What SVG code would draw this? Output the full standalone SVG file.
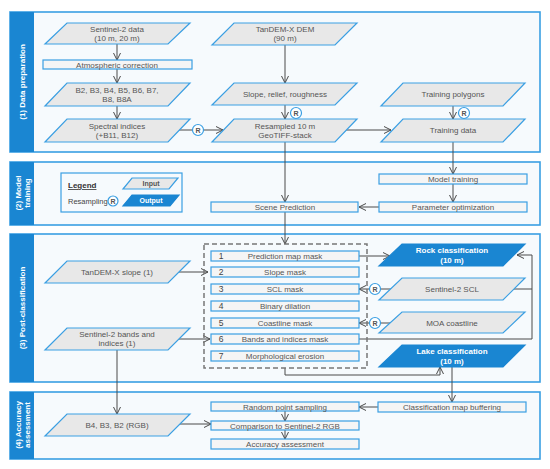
<svg xmlns="http://www.w3.org/2000/svg" width="550" height="469" viewBox="0 0 550 469">
<style>
.sec{fill:#f6fafd;stroke:#3a9fe3;stroke-width:1.6}
.bar{fill:#1a86d2}
.bl{font-family:"Liberation Sans",Arial,sans-serif;font-size:8px;font-weight:bold;fill:#ffffff;text-anchor:middle}
.in{fill:#e8e8e8;stroke:#3a9fe3;stroke-width:1.2}
.out{fill:#1a86d2;stroke:#1a86d2;stroke-width:1.2}
.box{fill:#f5f5f5;stroke:#3a9fe3;stroke-width:1.2}
.t{font-family:"Liberation Sans",Arial,sans-serif;font-size:8px;fill:#555555;text-anchor:middle}
.tw{font-family:"Liberation Sans",Arial,sans-serif;font-size:8px;font-weight:bold;fill:#ffffff;text-anchor:middle}
.n{font-family:"Liberation Sans",Arial,sans-serif;font-size:8.5px;fill:#444444;text-anchor:middle}
.c{fill:none;stroke:#4a4a4a;stroke-width:1}
.r{fill:#ffffff;stroke:#3a9fe3;stroke-width:1.2}
.rt{font-family:"Liberation Sans",Arial,sans-serif;font-size:7px;font-weight:bold;fill:#555555;text-anchor:middle}
</style>
<defs>
<marker id="a" viewBox="0 0 8 8" refX="7.5" refY="4" markerWidth="8" markerHeight="8" markerUnits="userSpaceOnUse" orient="auto">
<path d="M0.5,0.5 L7.5,4 L0.5,7.5" fill="none" stroke="#4a4a4a" stroke-width="1"/>
</marker>
</defs>
<rect width="550" height="469" fill="#ffffff"/>

<g id="section1">
<rect class="sec" x="10" y="12" width="530" height="140"/>
<rect class="bar" x="10" y="12" width="24" height="140"/>
<text class="bl" transform="translate(25,82) rotate(-90)">(1) Data preparation</text>
</g>
<g id="section2">
<rect class="sec" x="10" y="162" width="530" height="63"/>
<rect class="bar" x="10" y="162" width="24" height="63"/>
<text class="bl" transform="translate(21,193) rotate(-90)">(2) Model</text>
<text class="bl" transform="translate(30,193) rotate(-90)">training</text>
</g>
<g id="section3">
<rect class="sec" x="10" y="234" width="530" height="148"/>
<rect class="bar" x="10" y="234" width="24" height="148"/>
<text class="bl" transform="translate(25,308) rotate(-90)">(3) Post-classification</text>
</g>
<g id="section4">
<rect class="sec" x="10" y="392" width="530" height="67"/>
<rect class="bar" x="10" y="392" width="24" height="67"/>
<text class="bl" transform="translate(21,425) rotate(-90)">(4) Accuracy</text>
<text class="bl" transform="translate(30,425) rotate(-90)">assessment</text>
</g>

<g id="connectors">
<path class="c" d="M117,44 V60" marker-end="url(#a)"/>
<path class="c" d="M117,69 V83" marker-end="url(#a)"/>
<path class="c" d="M117,106 V119" marker-end="url(#a)"/>
<path class="c" d="M179,130 H223" marker-end="url(#a)"/>
<path class="c" d="M285,45 V83" marker-end="url(#a)"/>
<path class="c" d="M285,105 V119" marker-end="url(#a)"/>
<path class="c" d="M346,130 H391" marker-end="url(#a)"/>
<path class="c" d="M453,106 V119" marker-end="url(#a)"/>
<path class="c" d="M453,142 V174" marker-end="url(#a)"/>
<path class="c" d="M453,184 V202" marker-end="url(#a)"/>
<path class="c" d="M379,207 H359" marker-end="url(#a)"/>
<path class="c" d="M285,142 V202" marker-end="url(#a)"/>
<path class="c" d="M285,212 V244" marker-end="url(#a)"/>
<path class="c" d="M179,272 H208" marker-end="url(#a)"/>
<path class="c" d="M179,339 H210" marker-end="url(#a)"/>
<path class="c" d="M359,256 H390" marker-end="url(#a)"/>
<path class="c" d="M359,339 H532 V255 H517" marker-end="url(#a)"/>
<path class="c" d="M512,289 H532"/>
<path class="c" d="M392,289 H359" marker-end="url(#a)"/>
<path class="c" d="M392,323 H359" marker-end="url(#a)"/>
<path class="c" d="M285,368 V375 H440 V367" marker-end="url(#a)"/>
<path class="c" d="M452,367 V402" marker-end="url(#a)"/>
<path class="c" d="M117,350 V414" marker-end="url(#a)"/>
<path class="c" d="M179,424 H211" marker-end="url(#a)"/>
<path class="c" d="M378,407 H359" marker-end="url(#a)"/>
<path class="c" d="M285,411 V421" marker-end="url(#a)"/>
<path class="c" d="M285,430 V439" marker-end="url(#a)"/>
<circle class="r" cx="198" cy="130" r="5.5"/><text class="rt" x="198" y="132.5">R</text>
<circle class="r" cx="296" cy="113" r="5.5"/><text class="rt" x="296" y="115.5">R</text>
<circle class="r" cx="464" cy="113" r="5.5"/><text class="rt" x="464" y="115.5">R</text>
<circle class="r" cx="375" cy="289" r="5.5"/><text class="rt" x="375" y="291.5">R</text>
<circle class="r" cx="375" cy="323" r="5.5"/><text class="rt" x="375" y="325.5">R</text>
</g>

<g id="sentinel2-data">
<polygon class="in" points="67,23 190,23 168,44 45,44"/>
<text class="t" x="117" y="32">Sentinel-2 data</text>
<text class="t" x="117" y="41">(10 m, 20 m)</text>
</g>
<g id="atmospheric-correction">
<rect class="box" x="43" y="60" width="149" height="9"/>
<text class="t" x="117" y="67.5">Atmospheric correction</text>
</g>
<g id="bands">
<polygon class="in" points="67,83 190,83 168,106 45,106"/>
<text class="t" x="117" y="93">B2, B3, B4, B5, B6, B7,</text>
<text class="t" x="117" y="102">B8, B8A</text>
</g>
<g id="spectral-indices">
<polygon class="in" points="67,119 190,119 168,142 45,142"/>
<text class="t" x="117" y="129">Spectral indices</text>
<text class="t" x="117" y="138">(+B11, B12)</text>
</g>
<g id="tandem-dem">
<polygon class="in" points="234,23 357,23 335,45 212,45"/>
<text class="t" x="285" y="32">TanDEM-X DEM</text>
<text class="t" x="285" y="41">(90 m)</text>
</g>
<g id="slope-relief">
<polygon class="in" points="234,83 357,83 335,105 212,105"/>
<text class="t" x="285" y="97">Slope, relief, roughness</text>
</g>
<g id="resampled">
<polygon class="in" points="234,119 357,119 335,142 212,142"/>
<text class="t" x="285" y="129">Resampled 10 m</text>
<text class="t" x="285" y="138">GeoTIFF-stack</text>
</g>
<g id="training-polygons">
<polygon class="in" points="403,83 525,83 503,106 381,106"/>
<text class="t" x="453" y="97">Training polygons</text>
</g>
<g id="training-data">
<polygon class="in" points="403,119 525,119 503,142 381,142"/>
<text class="t" x="453" y="133">Training data</text>
</g>

<g id="legend">
<rect x="61" y="173" width="121" height="39" fill="#f6fafd" stroke="#3a9fe3" stroke-width="1.2"/>
<text x="68" y="188" font-family="Liberation Sans, Arial, sans-serif" font-size="8" font-weight="bold" fill="#333333" text-decoration="underline">Legend</text>
<text x="68" y="204" font-family="Liberation Sans, Arial, sans-serif" font-size="7.5" fill="#444444">Resampling</text>
<circle class="r" cx="113" cy="201" r="5"/><text class="rt" x="113" y="203.5">R</text>
<polygon class="in" points="132,178 178,178 169,189 123,189"/>
<text x="151" y="186" font-family="Liberation Sans, Arial, sans-serif" font-size="7" font-weight="bold" fill="#555555" text-anchor="middle">Input</text>
<polygon class="out" points="132,195 179,195 170,206 123,206"/>
<text x="151" y="203" font-family="Liberation Sans, Arial, sans-serif" font-size="7" font-weight="bold" fill="#ffffff" text-anchor="middle">Output</text>
</g>

<g id="model-training">
<rect class="box" x="379" y="174" width="148" height="10"/>
<text class="t" x="453" y="182">Model training</text>
</g>
<g id="parameter-optimization">
<rect class="box" x="379" y="202" width="148" height="10"/>
<text class="t" x="453" y="210">Parameter optimization</text>
</g>
<g id="scene-prediction">
<rect class="box" x="211" y="202" width="147" height="10"/>
<text class="t" x="285" y="210">Scene Prediction</text>
</g>

<g id="post-steps">
<rect x="204" y="244" width="163" height="124" fill="none" stroke="#777777" stroke-width="1.5" stroke-dasharray="5,3"/>
<rect class="box" x="211" y="251" width="148" height="10"/><text class="n" x="221" y="259">1</text><text class="t" x="285" y="259">Prediction map mask</text>
<rect class="box" x="211" y="267" width="148" height="10"/><text class="n" x="221" y="275">2</text><text class="t" x="285" y="275">Slope mask</text>
<rect class="box" x="211" y="284" width="148" height="10"/><text class="n" x="221" y="292">3</text><text class="t" x="285" y="292">SCL mask</text>
<rect class="box" x="211" y="301" width="148" height="10"/><text class="n" x="221" y="309">4</text><text class="t" x="285" y="309">Binary dilation</text>
<rect class="box" x="211" y="318" width="148" height="10"/><text class="n" x="221" y="326">5</text><text class="t" x="285" y="326">Coastline mask</text>
<rect class="box" x="211" y="334" width="148" height="10"/><text class="n" x="221" y="342">6</text><text class="t" x="285" y="342">Bands and indices mask</text>
<rect class="box" x="211" y="351" width="148" height="10"/><text class="n" x="221" y="359">7</text><text class="t" x="285" y="359">Morphological erosion</text>
</g>

<g id="tandem-slope">
<polygon class="in" points="67,261 190,261 168,283 45,283"/>
<text class="t" x="117" y="275">TanDEM-X slope (1)</text>
</g>
<g id="sentinel2-bands-indices">
<polygon class="in" points="67,328 190,328 168,350 45,350"/>
<text class="t" x="117" y="337">Sentinel-2 bands and</text>
<text class="t" x="117" y="346">indices (1)</text>
</g>
<g id="rock-classification">
<polygon class="out" points="402,244 525,244 503,266 379,266"/>
<text class="tw" x="452" y="253">Rock classification</text>
<text class="tw" x="452" y="263">(10 m)</text>
</g>
<g id="sentinel2-scl">
<polygon class="in" points="402,278 525,278 503,300 379,300"/>
<text class="t" x="452" y="292">Sentinel-2 SCL</text>
</g>
<g id="moa-coastline">
<polygon class="in" points="402,312 525,312 503,333 379,333"/>
<text class="t" x="452" y="326">MOA coastline</text>
</g>
<g id="lake-classification">
<polygon class="out" points="402,345 525,345 503,367 379,367"/>
<text class="tw" x="452" y="354">Lake classification</text>
<text class="tw" x="452" y="364">(10 m)</text>
</g>

<g id="classification-map-buffering">
<rect class="box" x="378" y="402" width="148" height="10"/>
<text class="t" x="452" y="410">Classification map buffering</text>
</g>
<g id="random-point-sampling">
<rect class="box" x="211" y="402" width="148" height="9"/>
<text class="t" x="285" y="409.5">Random point sampling</text>
</g>
<g id="comparison">
<rect class="box" x="211" y="421" width="148" height="9"/>
<text class="t" x="285" y="428.5">Comparison to Sentinel-2 RGB</text>
</g>
<g id="accuracy-assessment">
<rect class="box" x="211" y="439" width="148" height="10"/>
<text class="t" x="285" y="447">Accuracy assessment</text>
</g>
<g id="rgb-bands">
<polygon class="in" points="67,414 190,414 168,436 45,436"/>
<text class="t" x="117" y="428">B4, B3, B2 (RGB)</text>
</g>
</svg>
